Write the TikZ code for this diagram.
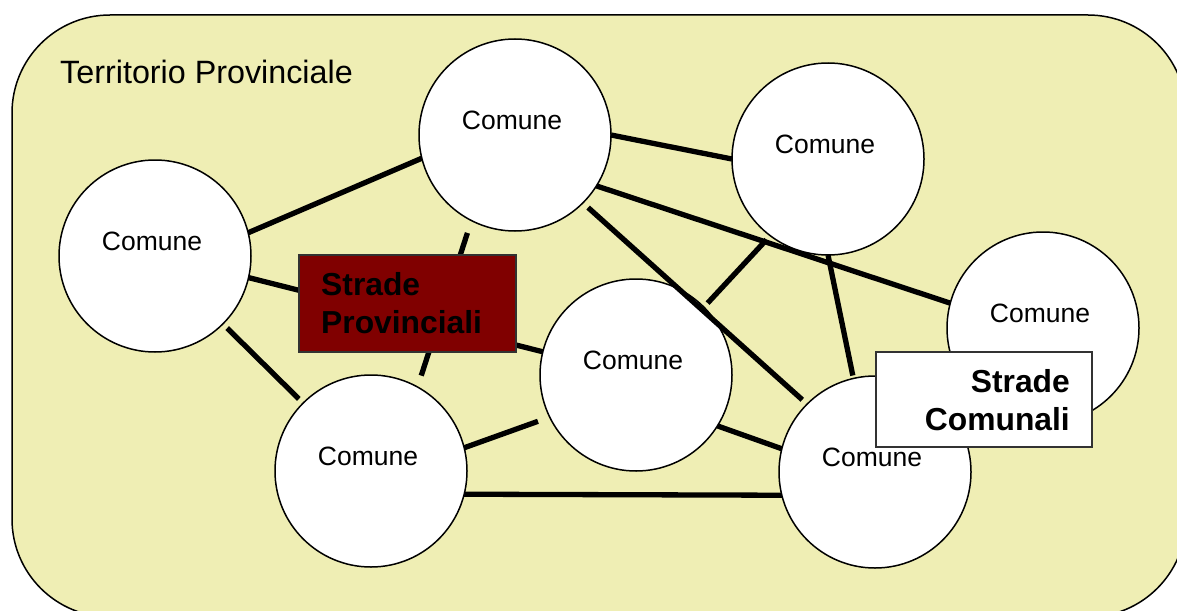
\documentclass[tikz,border=0pt]{standalone}
\usepackage{fontspec}
\setmainfont{Liberation Sans}
\definecolor{territorio}{RGB}{239,238,180}
\definecolor{provinciale}{RGB}{128,0,0}
\definecolor{bordo}{RGB}{50,50,50}
\begin{document}
\begin{tikzpicture}[x=1pt,y=-1pt,
  comune/.style={circle,draw=black,fill=white,line width=1.5pt,
    minimum size=192pt,inner sep=0pt,outer sep=0pt},
  nome/.style={inner sep=0pt,font=\fontsize{26.5}{32}\selectfont},
  strada/.style={line width=5.3pt,black},
  legenda/.style={draw=bordo,line width=1.2pt,inner sep=0pt,outer sep=0pt},
  voce/.style={inner sep=0pt,font=\fontsize{31.8}{38}\selectfont\bfseries}]
\useasboundingbox (0,0) rectangle (1177,610);
\clip (0,0) rectangle (1177,610);

% provincial territory
\draw[fill=territorio,line width=1.5pt,rounded corners=98pt] (12,15) rectangle (1186,617);
\node[nome,anchor=base west,font=\fontsize{32.3}{38}\selectfont] (titolo) at (60,83) {Territorio Provinciale};

% municipalities
\node[comune] (c1) at (155,256) {};
\node[comune] (c2) at (515,135) {};
\node[comune] (c3) at (828,159) {};
\node[comune] (c4) at (1043,328) {};
\node[comune] (c5) at (636,375) {};
\node[comune] (c6) at (371,471) {};
\node[comune] (c7) at (875,472) {};
\foreach \c in {c1,c2,c3,c4,c5,c6,c7}
  \node[nome] (n\c) at ([xshift=-3pt,yshift=14.5pt]\c.center) {Comune};

% roads
\draw[strada] (c1.14.5) -- (c2.194.5);
\draw[strada] (c1.-13) -- (c5.166);
\draw[strada,shorten <=13pt,shorten >=12pt] (c2.-117.2) -- (c6.61.9);
\draw[strada,shorten <=6pt,shorten >=6pt] (c1.-45) -- (c6.135);
\draw[strada] (c2.0) -- (c3.180);
\draw[strada] (c2.-32.4) -- (c4.165.4);
\draw[strada,shorten <=7pt,shorten >=6.5pt] (c2.-45) -- (c7.135);
\draw[strada,shorten <=5.5pt,shorten >=5.5pt] (c3.233.8) -- (c5.45);
\draw[strada,shorten >=3pt] (c3.-90) -- (c7.103.3);
\draw[strada] (c5.-32.7) -- (c7.166);
\draw[strada,shorten >=12.5pt] (c6.14) -- (c5.206.8);
\draw[strada] (c6.-14) -- (c7.194);

% legend boxes
\node[legenda,fill=provinciale,minimum width=217pt,minimum height=97pt] (sp) at (407.5,303.5) {};
\node[voce,anchor=base west] (sp1) at (321,295) {Strade};
\node[voce,anchor=base west] (sp2) at (321,333) {Provinciali};

\node[legenda,fill=white,minimum width=216pt,minimum height=95pt] (sc) at (984,399.5) {};
\node[voce,anchor=base east] (sc1) at (1070,392) {Strade};
\node[voce,anchor=base east] (sc2) at (1070,430) {Comunali};
\end{tikzpicture}
\end{document}
